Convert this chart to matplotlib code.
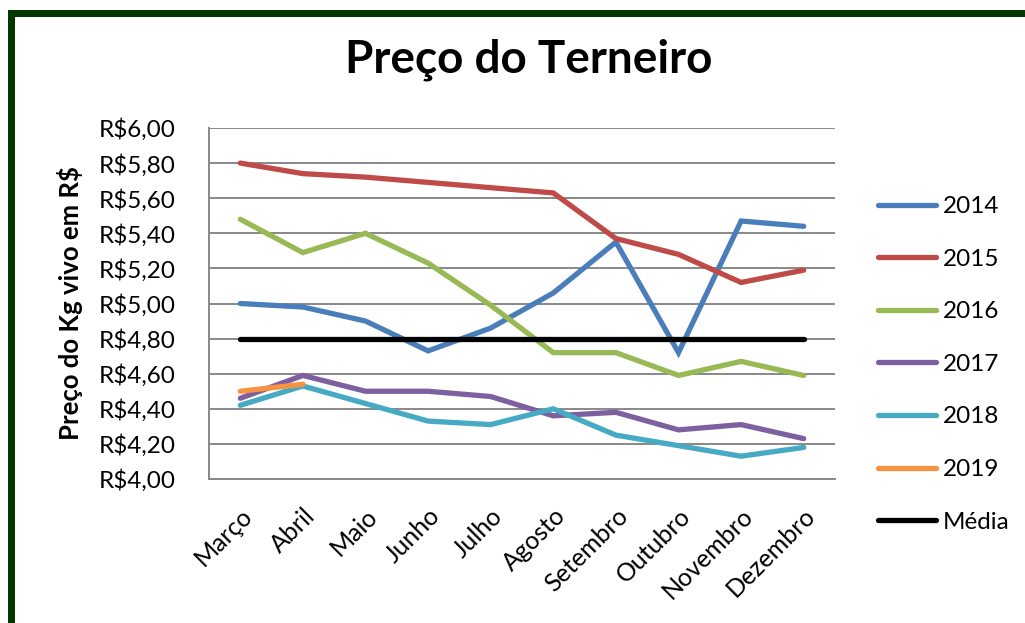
import numpy as np
import matplotlib
matplotlib.use("Agg")
import matplotlib.pyplot as plt
from matplotlib.patches import Rectangle
from matplotlib.transforms import ScaledTranslation

plt.rcParams['font.family'] = ['Lato', 'DejaVu Sans']

# dados
meses = ['Março', 'Abril', 'Maio', 'Junho', 'Julho', 'Agosto',
         'Setembro', 'Outubro', 'Novembro', 'Dezembro']
p2014 = [5.00, 4.98, 4.90, 4.73, 4.86, 5.06, 5.35, 4.72, 5.47, 5.44]
p2015 = [5.80, 5.74, 5.72, 5.69, 5.66, 5.63, 5.37, 5.28, 5.12, 5.19]
p2016 = [5.48, 5.29, 5.40, 5.23, 4.99, 4.72, 4.72, 4.59, 4.67, 4.59]
p2017 = [4.46, 4.59, 4.50, 4.50, 4.47, 4.36, 4.38, 4.28, 4.31, 4.23]
p2018 = [4.42, 4.53, 4.43, 4.33, 4.31, 4.40, 4.25, 4.19, 4.13, 4.18]
p2019 = [4.50, 4.54]
media = [4.80] * len(meses)

series = [
    ('2014', p2014, '#4A7EBB'),
    ('2015', p2015, '#BE4B48'),
    ('2016', p2016, '#98B954'),
    ('2017', p2017, '#7D60A0'),
    ('2018', p2018, '#46AAC5'),
    ('2019', p2019, '#F69240'),
    ('Média', media, '#000000'),
]

W, H = 1025, 623
fig = plt.figure(figsize=(W / 100, H / 100), dpi=100)
ax = fig.add_axes([209 / W, 1 - 479 / H, 626 / W, 351 / H])

x = np.arange(len(meses))
for nome, vals, cor in series:
    ax.plot(x[:len(vals)], vals, color=cor, lw=3.8, label=nome,
            solid_capstyle='round', solid_joinstyle='miter')

ax.set_xlim(-0.5, len(meses) - 0.5)
ax.set_ylim(4.0, 6.0)
ax.set_yticks(np.arange(4.0, 6.01, 0.2))
ax.set_yticklabels([f"R${v:.2f}".replace('.', ',') for v in np.arange(4.0, 6.01, 0.2)])
ax.set_xticks(x)
ax.set_xticklabels(meses, rotation=45, ha='right', va='top', rotation_mode='anchor')
# desloca os rótulos do eixo x um pouco para a direita
desloc = ScaledTranslation(5 / 100, 0, fig.dpi_scale_trans)
for lbl in ax.get_xticklabels():
    lbl.set_transform(lbl.get_transform() + desloc)

ax.grid(axis='y', color='#888888', lw=1.4)
ax.set_axisbelow(True)
for s in ['top', 'right']:
    ax.spines[s].set_visible(False)
for s in ['left', 'bottom']:
    ax.spines[s].set_color('#888888')
    ax.spines[s].set_linewidth(1.4)
ax.tick_params(axis='y', length=0, pad=24, labelsize=17.5)
ax.tick_params(axis='x', length=0, pad=18, labelsize=18)

ax.set_ylabel('Preço do Kg vivo em R$', fontsize=18.5, fontweight='bold', labelpad=11)
fig.text(529 / W, 1 - 60 / H, 'Preço do Terneiro', fontsize=33, fontweight='bold',
         ha='center', va='center')

ax.legend(loc='upper left', bbox_to_anchor=(878 / W, 1 - 196 / H),
          bbox_transform=fig.transFigure, frameon=False, fontsize=17.5,
          handlelength=2.4, handletextpad=0.25, labelspacing=1.3,
          borderpad=0, borderaxespad=0)

# moldura verde
verde = '#023702'
fig.add_artist(Rectangle((8 / W, 1 - 16.5 / H), 1, 6.5 / H, transform=fig.transFigure,
                         color=verde, lw=0))
fig.add_artist(Rectangle((8 / W, 0), 7 / W, 1 - 10 / H, transform=fig.transFigure,
                         color=verde, lw=0))

plt.savefig('out.png', dpi=100)
